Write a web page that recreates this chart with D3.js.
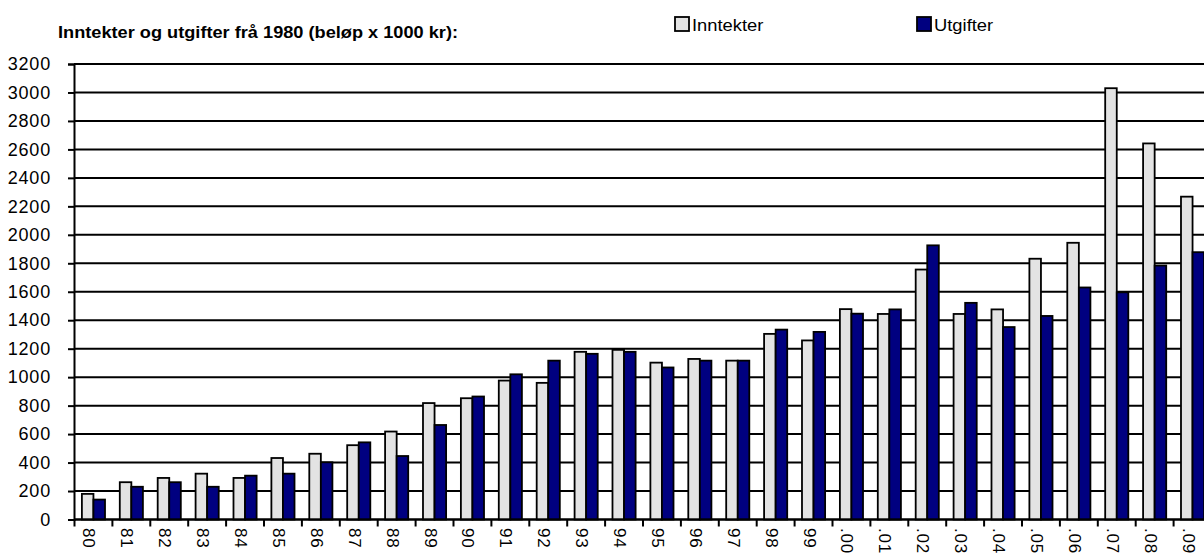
<!DOCTYPE html>
<html>
<head>
<meta charset="utf-8">
<script src="https://cdn.jsdelivr.net/npm/d3@7"></script>
<style>
  body { margin: 0; background: #fff; }
  svg { display: block; font-family: "Liberation Sans", Arial, sans-serif; }
</style>
</head>
<body>
<svg id="chart" width="1204" height="554"></svg>
<script>
// years on the x axis, 1980 - 2009
const years = ["80","81","82","83","84","85","86","87","88","89",
               "90","91","92","93","94","95","96","97","98","99",
               ".00",".01",".02",".03",".04",".05",".06",".07",".08",".09"];

// amounts x 1000 kr
const inntekter = [180, 262, 292, 322, 292, 432, 462, 522, 618, 818,
                   852, 976, 960, 1178, 1192, 1102, 1128, 1116, 1304, 1258,
                   1478, 1444, 1756, 1444, 1476, 1832, 1944, 3030, 2642, 2268];
const utgifter  = [140, 230, 262, 230, 308, 322, 402, 542, 446, 664,
                   864, 1020, 1116, 1164, 1178, 1068, 1116, 1116, 1334, 1318,
                   1446, 1476, 1926, 1522, 1352, 1430, 1630, 1596, 1784, 1878];

const series = [
  {name: "Inntekter", values: inntekter, color: "#e3e3e3"},
  {name: "Utgifter",  values: utgifter,  color: "#000080"}
];

const yTicks = d3.range(0, 3201, 200);

const svg = d3.select("#chart");

const x = d3.scaleBand()
  .domain(years)
  .range([74.5, 1211.5])
  .paddingInner(0.39)
  .paddingOuter(0.195);

const xSub = d3.scaleBand()
  .domain(series.map(s => s.name))
  .range([0, x.bandwidth()]);

const y = d3.scaleLinear()
  .domain([0, 3200])
  .range([519.5, 64]);

// gridlines
svg.append("g")
  .selectAll("line")
  .data(yTicks)
  .join("line")
    .attr("x1", 74).attr("x2", 1212)
    .attr("y1", d => y(d)).attr("y2", d => y(d))
    .attr("stroke", "#000")
    .attr("stroke-width", 2);

// bars
const groups = svg.append("g")
  .selectAll("g")
  .data(years)
  .join("g")
    .attr("transform", d => `translate(${x(d)},0)`);

groups.selectAll("rect")
  .data((d, i) => series.map(s => ({name: s.name, color: s.color, value: s.values[i]})))
  .join("rect")
    .attr("x", d => xSub(d.name))
    .attr("y", d => y(d.value))
    .attr("width", xSub.bandwidth())
    .attr("height", d => y(0) - y(d.value))
    .attr("fill", d => d.color)
    .attr("stroke", "#000")
    .attr("stroke-width", 1.8);

// y axis
const yAxis = svg.append("g")
  .attr("transform", "translate(74,0)")
  .call(d3.axisLeft(y).tickValues(yTicks).tickSize(6).tickPadding(17).tickFormat(d3.format("d")));
yAxis.select(".domain").attr("stroke-width", 2);
yAxis.selectAll(".tick line").attr("stroke-width", 2);
yAxis.selectAll(".tick text")
  .attr("font-size", 18)
  .attr("font-family", "Liberation Sans, Arial, sans-serif")
  .attr("fill", "#000")
  .attr("letter-spacing", 0.8);

// x axis: ticks on category boundaries
const bounds = years.map(d => x(d) - x.step() * x.paddingInner() / 2);
bounds.push(bounds[bounds.length - 1] + x.step());
svg.append("line")
  .attr("x1", 74).attr("x2", 1212)
  .attr("y1", y(0)).attr("y2", y(0))
  .attr("stroke", "#000").attr("stroke-width", 2);
svg.append("g")
  .selectAll("line")
  .data(bounds)
  .join("line")
    .attr("x1", d => d).attr("x2", d => d)
    .attr("y1", y(0)).attr("y2", y(0) + 7)
    .attr("stroke", "#000").attr("stroke-width", 2);

svg.append("g")
  .selectAll("text")
  .data(years)
  .join("text")
    .attr("transform", d => `translate(${x(d) + x.bandwidth() / 2 - 10},528) rotate(90)`)
    .attr("font-size", 17)
    .attr("letter-spacing", 0.8)
    .text(d => d);

// title
svg.append("text")
  .attr("transform", "translate(58,38) scale(1.07,1)")
  .attr("font-size", 17)
  .attr("font-weight", "bold")
  .text("Inntekter og utgifter frå 1980 (beløp x 1000 kr):");

// legend
const legendX = [675, 917];
const legend = svg.append("g")
  .selectAll("g")
  .data(series)
  .join("g")
    .attr("transform", (d, i) => `translate(${legendX[i]},17)`);
legend.append("rect")
  .attr("width", 14).attr("height", 14)
  .attr("fill", d => d.color)
  .attr("stroke", "#000").attr("stroke-width", 1.8);
legend.append("text")
  .attr("transform", "translate(17,14) scale(1.08,1)")
  .attr("font-size", 17)
  .text(d => d.name);
</script>
</body>
</html>
